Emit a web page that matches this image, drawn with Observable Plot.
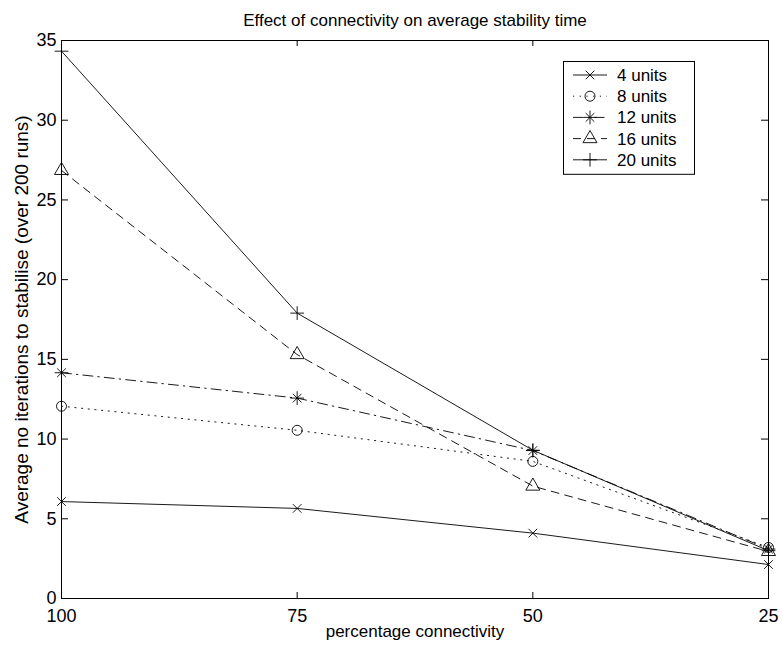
<!DOCTYPE html>
<html><head><meta charset="utf-8">
<script src="https://cdn.jsdelivr.net/npm/d3@7"></script>
<script src="https://cdn.jsdelivr.net/npm/@observablehq/plot@0.6"></script>
<style>body{margin:0;background:#fff} svg{display:block}</style>
</head><body><div id="chart"></div>
<script>
// ---- data ----
const connectivity = [100, 75, 50, 25];
const units4  = [6.08, 5.65, 4.1, 2.13];
const units8  = [12.06, 10.55, 8.6, 3.2];
const units12 = [14.16, 12.57, 9.28, 3.1];
const units16 = [26.85, 15.3, 7.05, 2.95];
const units20 = [34.33, 17.9, 9.3, 3.0];
const seriesNames = ["4 units", "8 units", "12 units", "16 units", "20 units"];
const xTicks = [100, 75, 50, 25];
const yTicks = [0, 5, 10, 15, 20, 25, 30, 35];
const titleText = "Effect of connectivity on average stability time";
const xLabel = "percentage connectivity";
const yLabel = "Average no iterations to stabilise (over 200 runs)";

// ---- styles ----
const seriesValues = [units4, units8, units12, units16, units20];
const dashes = [null, "1.2,5.5", "10,5,1.5,5", "8,6", null];
const symbols = [["times"], ["circle"], ["plus", "times"], ["triangle"], ["plus"]];
const symR = {times: 4, circle: 5, plus: 4.5, triangle: 5.2};

const W = 782, H = 651;
const mL = 61, mR = 14, mT = 40, mB = 53;
const plotW = W - mL - mR, plotH = H - mT - mB;
const FONT = "Liberation Sans, Arial, Helvetica, sans-serif";
const FS = 17, TFS = 18, YFS = 19;

const tables = seriesValues.map((vals, i) =>
  connectivity.map((c, j) => ({series: seriesNames[i], x: c, y: vals[j]})));

const marks = [];
marks.push(Plot.frame({stroke: "black", strokeWidth: 1}));
// inward ticks on all four sides
marks.push(Plot.tickX(xTicks, {x: d => d, insetTop: plotH - 6, stroke: "black"}));
marks.push(Plot.tickX(xTicks, {x: d => d, insetBottom: plotH - 6, stroke: "black"}));
marks.push(Plot.tickY(yTicks, {y: d => d, insetRight: plotW - 7, stroke: "black"}));
marks.push(Plot.tickY(yTicks, {y: d => d, insetLeft: plotW - 7, stroke: "black"}));
marks.push(Plot.axisX(xTicks, {anchor: "bottom", tickSize: 0, tickPadding: 11, label: null, fontSize: TFS, tickFormat: d => String(d)}));
marks.push(Plot.axisY(yTicks, {anchor: "left", tickSize: 0, tickPadding: 5, label: null, fontSize: TFS, tickFormat: d => String(d)}));

tables.forEach((t, i) => {
  marks.push(Plot.line(t, {x: "x", y: "y", stroke: "black", strokeWidth: 0.9, strokeDasharray: dashes[i]}));
});
tables.forEach((t, i) => {
  symbols[i].forEach(s => {
    marks.push(Plot.dot(t, {x: "x", y: "y", symbol: () => s, r: symR[s], stroke: "black", fill: "none", strokeWidth: 0.9}));
  });
});

marks.push(Plot.text([titleText], {frameAnchor: "top", dy: -27, fontSize: FS, fill: "black"}));
marks.push(Plot.text([xLabel], {frameAnchor: "bottom", dy: 38, fontSize: FS, fill: "black"}));
marks.push(Plot.text([yLabel], {frameAnchor: "left", textAnchor: "middle", dx: -40, rotate: -90, fontSize: YFS, fill: "black"}));

const chart = Plot.plot({
  width: W, height: H,
  marginLeft: mL, marginRight: mR, marginTop: mT, marginBottom: mB,
  style: {fontFamily: FONT, fontSize: FS + "px", color: "black", background: "white"},
  x: {domain: [100, 25], type: "linear"},
  y: {domain: [0, 35]},
  symbol: {type: "identity"},
  marks
});
document.getElementById("chart").appendChild(chart);

// ---- legend ----
const svg = d3.select(chart);
const lx0 = 563, ly0 = 61, lw = 131, rowH = 21.2, lh = 14 + rowH * 4 + 14;
const lg = svg.append("g").attr("text-anchor", "start");
lg.append("rect").attr("x", lx0 + 0.5).attr("y", ly0 + 0.5).attr("width", lw).attr("height", lh)
  .attr("fill", "white").attr("stroke", "black").attr("stroke-width", 1);
const symMap = {times: d3.symbolTimes, circle: d3.symbolCircle, plus: d3.symbolPlus, triangle: d3.symbolTriangle};
seriesNames.forEach((name, i) => {
  const cy = ly0 + 14 + i * rowH;
  lg.append("line").attr("x1", lx0 + 10).attr("x2", lx0 + 44).attr("y1", cy).attr("y2", cy)
    .attr("stroke", "black").attr("stroke-width", 0.9).attr("stroke-dasharray", dashes[i]);
  symbols[i].forEach(s => {
    lg.append("path").attr("d", d3.symbol(symMap[s], symR[s] * symR[s] * Math.PI)())
      .attr("transform", `translate(${lx0 + 27},${cy})`)
      .attr("fill", "none").attr("stroke", "black").attr("stroke-width", 0.9);
  });
  lg.append("text").attr("x", lx0 + 54).attr("y", cy).attr("dy", "0.35em").attr("text-anchor", "start")
    .attr("font-family", FONT).attr("font-size", FS).attr("fill", "black").text(name);
});
</script>
</body></html>
